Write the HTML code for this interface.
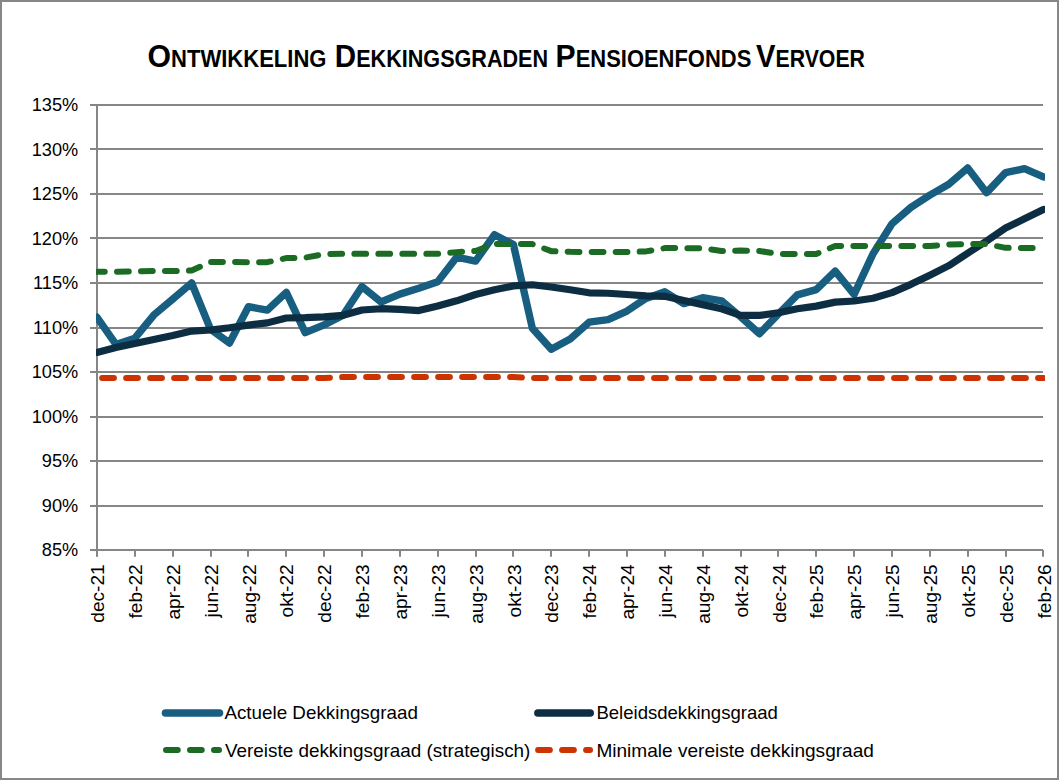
<!DOCTYPE html>
<html><head><meta charset="utf-8"><style>
html,body{margin:0;padding:0;background:#fff;}
body{width:1059px;height:780px;overflow:hidden;}
svg{display:block;}
.t{font-family:"Liberation Sans",sans-serif;font-size:18.2px;fill:#000;}
.tt{font-family:"Liberation Sans",sans-serif;font-weight:bold;fill:#000;}
</style></head><body>
<svg width="1059" height="780" viewBox="0 0 1059 780">
<defs><clipPath id="pc"><rect x="96" y="0" width="949" height="700"/></clipPath></defs>
<rect x="1" y="1" width="1057" height="778" fill="#fff" stroke="#878787" stroke-width="2"/>
<line x1="90" y1="105" x2="1043" y2="105" stroke="#868686" stroke-width="2"/>
<line x1="90" y1="149" x2="1043" y2="149" stroke="#868686" stroke-width="2"/>
<line x1="90" y1="194" x2="1043" y2="194" stroke="#868686" stroke-width="2"/>
<line x1="90" y1="238" x2="1043" y2="238" stroke="#868686" stroke-width="2"/>
<line x1="90" y1="283" x2="1043" y2="283" stroke="#868686" stroke-width="2"/>
<line x1="90" y1="328" x2="1043" y2="328" stroke="#868686" stroke-width="2"/>
<line x1="90" y1="372" x2="1043" y2="372" stroke="#868686" stroke-width="2"/>
<line x1="90" y1="417" x2="1043" y2="417" stroke="#868686" stroke-width="2"/>
<line x1="90" y1="461" x2="1043" y2="461" stroke="#868686" stroke-width="2"/>
<line x1="90" y1="506" x2="1043" y2="506" stroke="#868686" stroke-width="2"/>
<line x1="90" y1="550" x2="1043" y2="550" stroke="#868686" stroke-width="2"/>
<line x1="97.0" y1="104.0" x2="97.0" y2="556.5" stroke="#868686" stroke-width="2"/>
<line x1="97" y1="550.0" x2="97" y2="556.8" stroke="#868686" stroke-width="2"/>
<line x1="135" y1="550.0" x2="135" y2="556.8" stroke="#868686" stroke-width="2"/>
<line x1="173" y1="550.0" x2="173" y2="556.8" stroke="#868686" stroke-width="2"/>
<line x1="211" y1="550.0" x2="211" y2="556.8" stroke="#868686" stroke-width="2"/>
<line x1="248" y1="550.0" x2="248" y2="556.8" stroke="#868686" stroke-width="2"/>
<line x1="286" y1="550.0" x2="286" y2="556.8" stroke="#868686" stroke-width="2"/>
<line x1="324" y1="550.0" x2="324" y2="556.8" stroke="#868686" stroke-width="2"/>
<line x1="362" y1="550.0" x2="362" y2="556.8" stroke="#868686" stroke-width="2"/>
<line x1="400" y1="550.0" x2="400" y2="556.8" stroke="#868686" stroke-width="2"/>
<line x1="438" y1="550.0" x2="438" y2="556.8" stroke="#868686" stroke-width="2"/>
<line x1="476" y1="550.0" x2="476" y2="556.8" stroke="#868686" stroke-width="2"/>
<line x1="513" y1="550.0" x2="513" y2="556.8" stroke="#868686" stroke-width="2"/>
<line x1="551" y1="550.0" x2="551" y2="556.8" stroke="#868686" stroke-width="2"/>
<line x1="589" y1="550.0" x2="589" y2="556.8" stroke="#868686" stroke-width="2"/>
<line x1="627" y1="550.0" x2="627" y2="556.8" stroke="#868686" stroke-width="2"/>
<line x1="665" y1="550.0" x2="665" y2="556.8" stroke="#868686" stroke-width="2"/>
<line x1="703" y1="550.0" x2="703" y2="556.8" stroke="#868686" stroke-width="2"/>
<line x1="741" y1="550.0" x2="741" y2="556.8" stroke="#868686" stroke-width="2"/>
<line x1="778" y1="550.0" x2="778" y2="556.8" stroke="#868686" stroke-width="2"/>
<line x1="816" y1="550.0" x2="816" y2="556.8" stroke="#868686" stroke-width="2"/>
<line x1="854" y1="550.0" x2="854" y2="556.8" stroke="#868686" stroke-width="2"/>
<line x1="892" y1="550.0" x2="892" y2="556.8" stroke="#868686" stroke-width="2"/>
<line x1="930" y1="550.0" x2="930" y2="556.8" stroke="#868686" stroke-width="2"/>
<line x1="968" y1="550.0" x2="968" y2="556.8" stroke="#868686" stroke-width="2"/>
<line x1="1006" y1="550.0" x2="1006" y2="556.8" stroke="#868686" stroke-width="2"/>
<line x1="1043" y1="550.0" x2="1043" y2="556.8" stroke="#868686" stroke-width="2"/>
<text x="78.2" y="111.30" text-anchor="end" class="t">135%</text>
<text x="78.2" y="155.80" text-anchor="end" class="t">130%</text>
<text x="78.2" y="200.30" text-anchor="end" class="t">125%</text>
<text x="78.2" y="244.80" text-anchor="end" class="t">120%</text>
<text x="78.2" y="289.30" text-anchor="end" class="t">115%</text>
<text x="78.2" y="333.80" text-anchor="end" class="t">110%</text>
<text x="78.2" y="378.30" text-anchor="end" class="t">105%</text>
<text x="78.2" y="422.80" text-anchor="end" class="t">100%</text>
<text x="78.2" y="467.30" text-anchor="end" class="t">95%</text>
<text x="78.2" y="511.80" text-anchor="end" class="t">90%</text>
<text x="78.2" y="556.30" text-anchor="end" class="t">85%</text>
<text transform="translate(104.20,564.3) rotate(-90) scale(1.05,1)" text-anchor="end" class="t">dec-21</text>
<text transform="translate(142.06,564.3) rotate(-90) scale(1.05,1)" text-anchor="end" class="t">feb-22</text>
<text transform="translate(179.91,564.3) rotate(-90) scale(1.05,1)" text-anchor="end" class="t">apr-22</text>
<text transform="translate(217.77,564.3) rotate(-90) scale(1.05,1)" text-anchor="end" class="t">jun-22</text>
<text transform="translate(255.62,564.3) rotate(-90) scale(1.05,1)" text-anchor="end" class="t">aug-22</text>
<text transform="translate(293.48,564.3) rotate(-90) scale(1.05,1)" text-anchor="end" class="t">okt-22</text>
<text transform="translate(331.34,564.3) rotate(-90) scale(1.05,1)" text-anchor="end" class="t">dec-22</text>
<text transform="translate(369.19,564.3) rotate(-90) scale(1.05,1)" text-anchor="end" class="t">feb-23</text>
<text transform="translate(407.05,564.3) rotate(-90) scale(1.05,1)" text-anchor="end" class="t">apr-23</text>
<text transform="translate(444.90,564.3) rotate(-90) scale(1.05,1)" text-anchor="end" class="t">jun-23</text>
<text transform="translate(482.76,564.3) rotate(-90) scale(1.05,1)" text-anchor="end" class="t">aug-23</text>
<text transform="translate(520.62,564.3) rotate(-90) scale(1.05,1)" text-anchor="end" class="t">okt-23</text>
<text transform="translate(558.47,564.3) rotate(-90) scale(1.05,1)" text-anchor="end" class="t">dec-23</text>
<text transform="translate(596.33,564.3) rotate(-90) scale(1.05,1)" text-anchor="end" class="t">feb-24</text>
<text transform="translate(634.18,564.3) rotate(-90) scale(1.05,1)" text-anchor="end" class="t">apr-24</text>
<text transform="translate(672.04,564.3) rotate(-90) scale(1.05,1)" text-anchor="end" class="t">jun-24</text>
<text transform="translate(709.90,564.3) rotate(-90) scale(1.05,1)" text-anchor="end" class="t">aug-24</text>
<text transform="translate(747.75,564.3) rotate(-90) scale(1.05,1)" text-anchor="end" class="t">okt-24</text>
<text transform="translate(785.61,564.3) rotate(-90) scale(1.05,1)" text-anchor="end" class="t">dec-24</text>
<text transform="translate(823.46,564.3) rotate(-90) scale(1.05,1)" text-anchor="end" class="t">feb-25</text>
<text transform="translate(861.32,564.3) rotate(-90) scale(1.05,1)" text-anchor="end" class="t">apr-25</text>
<text transform="translate(899.18,564.3) rotate(-90) scale(1.05,1)" text-anchor="end" class="t">jun-25</text>
<text transform="translate(937.03,564.3) rotate(-90) scale(1.05,1)" text-anchor="end" class="t">aug-25</text>
<text transform="translate(974.89,564.3) rotate(-90) scale(1.05,1)" text-anchor="end" class="t">okt-25</text>
<text transform="translate(1012.74,564.3) rotate(-90) scale(1.05,1)" text-anchor="end" class="t">dec-25</text>
<text transform="translate(1050.60,564.3) rotate(-90) scale(1.05,1)" text-anchor="end" class="t">feb-26</text>
<g clip-path="url(#pc)" stroke-linejoin="round" fill="none">
<path d="M97.00,317.26 L115.93,344.41 L134.86,338.18 L153.78,315.04 L172.71,299.11 L191.64,283.00 L210.57,329.28 L229.50,343.07 L248.42,306.76 L267.35,310.14 L286.28,292.34 L305.21,332.66 L324.14,324.83 L343.06,315.31 L361.99,286.56 L380.92,301.96 L399.85,294.12 L418.78,288.25 L437.70,281.66 L456.63,257.19 L475.56,261.11 L494.49,234.67 L513.42,244.64 L532.34,328.21 L551.27,349.31 L570.20,339.07 L589.13,322.16 L608.06,319.58 L626.98,311.04 L645.91,298.40 L664.84,291.81 L683.77,303.65 L702.70,297.77 L721.62,300.80 L740.55,316.73 L759.48,333.73 L778.41,313.97 L797.34,294.93 L816.26,289.59 L835.19,271.16 L854.12,294.39 L873.05,253.72 L891.98,223.81 L910.90,207.35 L929.83,195.16 L948.76,184.21 L967.69,168.01 L986.62,192.66 L1005.54,172.64 L1024.47,168.64 L1043.40,176.82" stroke="#175E80" stroke-width="7.4" stroke-linecap="round"/>
<path d="M97.00,352.42 L115.93,347.52 L134.86,343.52 L153.78,339.51 L172.71,335.51 L191.64,331.06 L210.57,329.99 L229.50,327.77 L248.42,325.10 L267.35,322.87 L286.28,317.98 L305.21,317.71 L324.14,316.82 L343.06,315.31 L361.99,309.97 L380.92,308.72 L399.85,309.34 L418.78,310.59 L437.70,305.96 L456.63,300.80 L475.56,294.48 L494.49,289.76 L513.42,285.85 L532.34,284.78 L551.27,287.00 L570.20,289.76 L589.13,292.79 L608.06,293.24 L626.98,294.48 L645.91,295.82 L664.84,296.35 L683.77,300.44 L702.70,304.63 L721.62,308.81 L740.55,315.40 L759.48,315.40 L778.41,312.73 L797.34,308.72 L816.26,306.14 L835.19,302.14 L854.12,300.98 L873.05,298.31 L891.98,292.61 L910.90,284.34 L929.83,275.17 L948.76,265.64 L967.69,253.19 L986.62,240.99 L1005.54,228.09 L1024.47,218.74 L1043.40,209.40" stroke="#0D2E42" stroke-width="7.2" stroke-linecap="round"/>
<path d="M97.00,271.79 L115.93,271.79 L134.86,271.43 L153.78,270.99 L172.71,270.99 L191.64,270.54 L210.57,261.91 L229.50,261.91 L248.42,262.17 L267.35,262.17 L286.28,258.08 L305.21,257.64 L324.14,254.16 L343.06,253.81 L361.99,253.81 L380.92,253.81 L399.85,253.81 L418.78,253.81 L437.70,253.81 L456.63,252.12 L475.56,250.96 L494.49,243.93 L513.42,243.93 L532.34,244.11 L551.27,251.14 L570.20,251.85 L589.13,252.03 L608.06,252.03 L626.98,252.03 L645.91,251.41 L664.84,248.11 L683.77,248.11 L702.70,248.29 L721.62,250.96 L740.55,250.60 L759.48,250.96 L778.41,253.99 L797.34,253.99 L816.26,253.99 L835.19,245.98 L854.12,245.98 L873.05,245.98 L891.98,245.98 L910.90,245.98 L929.83,245.98 L948.76,244.46 L967.69,244.02 L986.62,244.11 L1005.54,247.84 L1024.47,248.02 L1043.40,248.02" stroke="#1B6B25" stroke-width="6" stroke-linecap="round" stroke-dasharray="11.75 12.25" stroke-dashoffset="4.0"/>
<path d="M97.00,377.96 L115.93,377.96 L134.86,377.96 L153.78,377.96 L172.71,377.96 L191.64,377.96 L210.57,377.96 L229.50,377.96 L248.42,377.96 L267.35,377.96 L286.28,377.96 L305.21,377.96 L324.14,377.96 L343.06,377.07 L361.99,377.07 L380.92,377.07 L399.85,377.07 L418.78,377.07 L437.70,377.07 L456.63,377.07 L475.56,377.07 L494.49,377.07 L513.42,377.07 L532.34,377.96 L551.27,377.96 L570.20,377.96 L589.13,377.96 L608.06,377.96 L626.98,377.96 L645.91,377.96 L664.84,377.96 L683.77,377.96 L702.70,377.96 L721.62,377.96 L740.55,377.96 L759.48,377.96 L778.41,377.96 L797.34,377.96 L816.26,377.96 L835.19,377.96 L854.12,377.96 L873.05,377.96 L891.98,377.96 L910.90,377.96 L929.83,377.96 L948.76,377.96 L967.69,377.96 L986.62,377.96 L1005.54,377.96 L1024.47,377.96 L1043.40,377.96" stroke="#CC3300" stroke-width="6" stroke-linecap="round" stroke-dasharray="11.75 12.25" stroke-dashoffset="18.85"/>
</g>
<line x1="165.5" y1="713" x2="219.5" y2="713" stroke="#175E80" stroke-width="7.6" stroke-linecap="round"/>
<line x1="537.9" y1="713" x2="590.2" y2="713" stroke="#0D2E42" stroke-width="7.6" stroke-linecap="round"/>
<line x1="166" y1="750" x2="219" y2="750" stroke="#1B6B25" stroke-width="6" stroke-linecap="round" stroke-dasharray="11.75 12.25"/>
<line x1="538.1" y1="750" x2="590" y2="750" stroke="#CC3300" stroke-width="6" stroke-linecap="round" stroke-dasharray="11.75 12.25"/>
<text x="224.4" y="719.2" class="t" textLength="193.5" lengthAdjust="spacingAndGlyphs">Actuele Dekkingsgraad</text>
<text x="224.9" y="757" class="t" textLength="305.5" lengthAdjust="spacingAndGlyphs">Vereiste dekkingsgraad (strategisch)</text>
<text x="596.4" y="719.2" class="t" textLength="181.5" lengthAdjust="spacingAndGlyphs">Beleidsdekkingsgraad</text>
<text x="596.4" y="757" class="t" textLength="277.5" lengthAdjust="spacingAndGlyphs">Minimale vereiste dekkingsgraad</text>
<text x="147.50" y="66.7" class="tt" textLength="179.00" lengthAdjust="spacingAndGlyphs"><tspan font-size="31.8">O</tspan><tspan font-size="23.2">NTWIKKELING</tspan></text>
<text x="334.80" y="66.7" class="tt" textLength="213.30" lengthAdjust="spacingAndGlyphs"><tspan font-size="31.8">D</tspan><tspan font-size="23.2">EKKINGSGRADEN</tspan></text>
<text x="555.60" y="66.7" class="tt" textLength="195.70" lengthAdjust="spacingAndGlyphs"><tspan font-size="31.8">P</tspan><tspan font-size="23.2">ENSIOENFONDS</tspan></text>
<text x="756.00" y="66.7" class="tt" textLength="109.00" lengthAdjust="spacingAndGlyphs"><tspan font-size="31.8">V</tspan><tspan font-size="23.2">ERVOER</tspan></text>
</svg>
</body></html>
